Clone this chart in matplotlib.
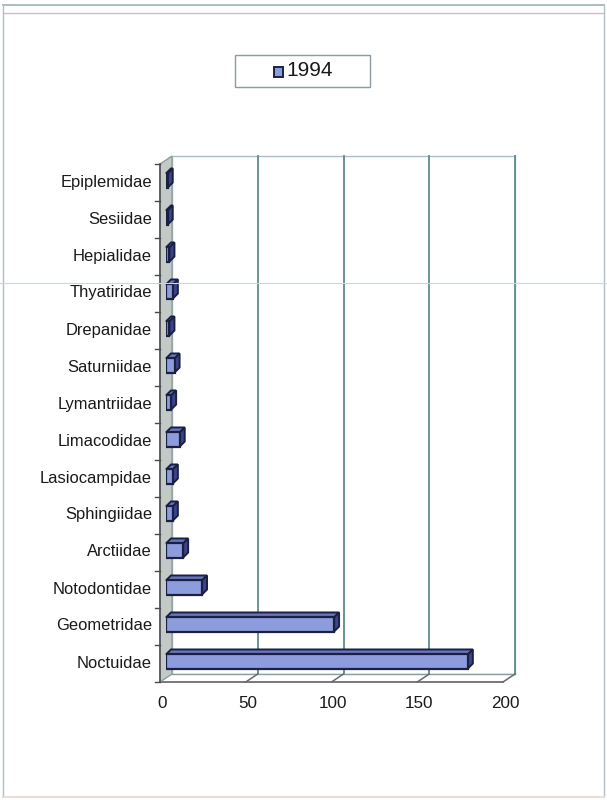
import numpy as np
import matplotlib
matplotlib.use('Agg')
import matplotlib.pyplot as plt
from matplotlib.patches import Polygon, Rectangle
from matplotlib.lines import Line2D
from matplotlib.transforms import IdentityTransform

plt.rcParams['font.family'] = ['Liberation Sans', 'DejaVu Sans']

# moth families, bottom to top, and catch counts for 1994
families = ['Noctuidae', 'Geometridae', 'Notodontidae', 'Arctiidae', 'Sphingiidae',
            'Lasiocampidae', 'Limacodidae', 'Lymantriidae', 'Saturniidae', 'Drepanidae',
            'Thyatiridae', 'Hepialidae', 'Sesiidae', 'Epiplemidae']
counts_1994 = [176, 98, 21, 10, 4, 4, 8, 3, 5, 2, 4, 2, 1, 1]
series_name = '1994'
x_ticks = [0, 50, 100, 150, 200]

W, H = 607, 800
fig = plt.figure(figsize=(W / 100, H / 100), dpi=100)
fig.patch.set_facecolor('white')

# axes = plane of the bars' front faces
ax = fig.add_axes([166 / W, 120 / H, 343 / W, 518 / H])
ax.set_xlim(x_ticks[0], x_ticks[-1])
ax.set_ylim(-0.5, len(families) - 0.5)
for s in ax.spines.values():
    s.set_visible(False)
ax.patch.set_visible(False)
ax.set_xticks([])
ax.set_yticks(range(len(families)), families)
ax.tick_params(axis='y', length=0, pad=10, labelsize=11.9, labelcolor='#1a1a1a')

pix = IdentityTransform()
FRONT = (-6, -2)   # front plane of the 3d box, in pixels
BACK = (6, 6)      # back wall
DEPTH = (5, 5)     # depth of each bar


def to_px(x, y, off=(0, 0)):
    p = ax.transData.transform((x, y))
    return (p[0] + off[0], p[1] + off[1])


def poly(pts, **kw):
    ax.add_patch(Polygon(pts, closed=True, transform=pix, clip_on=False, **kw))


def seg(p, q, **kw):
    ax.add_line(Line2D([p[0], q[0]], [p[1], q[1]], transform=pix, clip_on=False, **kw))


x0, x1 = x_ticks[0], x_ticks[-1]
y0, y1 = -0.5, len(families) - 0.5

# back wall + gridlines
poly([to_px(x0, y0, BACK), to_px(x1, y0, BACK), to_px(x1, y1, BACK), to_px(x0, y1, BACK)],
     facecolor='white', edgecolor='#a9bfc4', lw=1, zorder=0)
for v in x_ticks[1:]:
    seg(to_px(v, y0, BACK), to_px(v, y1, BACK), color='#5f8a90', lw=1.3, zorder=0.5)

# floor
poly([to_px(x0, y0, FRONT), to_px(x1, y0, FRONT), to_px(x1, y0, BACK), to_px(x0, y0, BACK)],
     facecolor='white', edgecolor='none', zorder=0.6)
seg(to_px(x0, y0, BACK), to_px(x1, y0, BACK), color='#8a9ea2', lw=1, zorder=0.7)
seg(to_px(x0, y0, FRONT), to_px(x1, y0, FRONT), color='#555555', lw=1.1, zorder=0.7)
for v in x_ticks[1:]:
    seg(to_px(v, y0, FRONT), to_px(v, y0, BACK), color='#6a6a6a', lw=1.1, zorder=0.7)

# left wall
poly([to_px(x0, y0, FRONT), to_px(x0, y1, FRONT), to_px(x0, y1, BACK), to_px(x0, y0, BACK)],
     facecolor='#c2c9c7', edgecolor='#8f9c9e', lw=1, zorder=0.8)
seg(to_px(x0, y0, FRONT), to_px(x0, y1, FRONT), color='#4a4a4a', lw=1.1, zorder=0.9)
for k in range(len(families) + 1):
    p = to_px(x0, k - 0.5, FRONT)
    seg(p, (p[0] - 5, p[1]), color='#4a4a4a', lw=1, zorder=0.9)

# x tick labels along the front edge of the floor
for v in x_ticks:
    p = to_px(v, y0, FRONT)
    ax.text(p[0] + 2, p[1] - 21, str(v), transform=pix, ha='center', va='center',
            fontsize=12.3, color='#1a1a1a')

# bars: front faces from barh, top and side faces pushed back by DEPTH
bar_h = 0.38
ypos = np.arange(len(families))
ax.barh(ypos, counts_1994, height=bar_h, left=0, color='#8c9cdc',
        edgecolor='#1a2040', lw=1.6, zorder=3)
for i, v in zip(ypos, counts_1994):
    top = [to_px(0, i + bar_h / 2), to_px(v, i + bar_h / 2),
           to_px(v, i + bar_h / 2, DEPTH), to_px(0, i + bar_h / 2, DEPTH)]
    side = [to_px(v, i - bar_h / 2), to_px(v, i + bar_h / 2),
            to_px(v, i + bar_h / 2, DEPTH), to_px(v, i - bar_h / 2, DEPTH)]
    poly(top, facecolor='#6a73c2', edgecolor='#1a2040', lw=1.4, zorder=2.5)
    poly(side, facecolor='#3e4390', edgecolor='#1a2040', lw=1.4, zorder=2.5)

# legend box
fig.add_artist(Rectangle((235, H - 87), 135, 32, transform=pix, facecolor='white',
                         edgecolor='#8c9aa2', lw=1))
fig.add_artist(Rectangle((274, H - 77), 9, 10, transform=pix, facecolor='#8c9cdc',
                         edgecolor='#1a2040', lw=1.4))
fig.text(286, H - 71, series_name, transform=pix, ha='left', va='center',
         fontsize=15, color='#1a1a1a')

# outer chart border
fig.add_artist(Line2D([3, 604], [H - 5, H - 5], transform=pix, color='#9fb2ba', lw=1.2))
fig.add_artist(Line2D([3, 604], [H - 13, H - 13], transform=pix, color='#c8c0c2', lw=1))
fig.add_artist(Line2D([3, 3], [3, H - 5], transform=pix, color='#b0c0c6', lw=1))
fig.add_artist(Line2D([604, 604], [3, H - 5], transform=pix, color='#b0c0c6', lw=1))
fig.add_artist(Line2D([3, 604], [3, 3], transform=pix, color='#eadcd8', lw=1.5))
fig.add_artist(Line2D([0, W], [H - 283, H - 283], transform=pix, color='#b4e0ee', lw=0.8))

fig.savefig('out.png', dpi=100)
